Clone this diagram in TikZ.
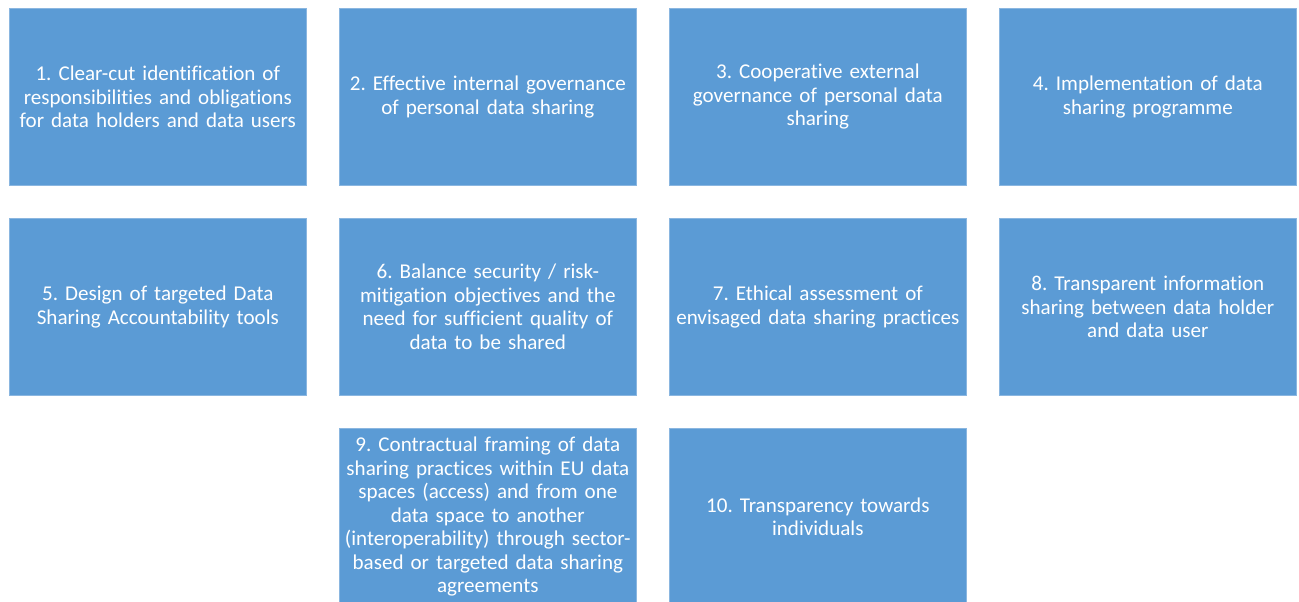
\documentclass[tikz,border=0pt]{standalone}
\usepackage{fontspec}
\setmainfont{Carlito}[Ligatures=NoCommon]
\usetikzlibrary{positioning}
\definecolor{boxblue}{HTML}{5B9BD5}
\definecolor{boxedge}{HTML}{8AB6E0}
\frenchspacing

\begin{document}
\begin{tikzpicture}[
    x=0.75pt, y=-0.75pt,
    node distance=24.25pt,
    item/.style={
        fill=boxblue,
        draw=boxedge,
        line width=0.5pt,
        text=white,
        minimum width=222.75pt,
        minimum height=132.75pt,
        text width=222pt,
        align=center,
        inner sep=0pt,
        font=\fontsize{15.8}{17.6}\selectfont
    }
]
\path[use as bounding box, clip] (0,0) rectangle (1299,602);

% first row
\node[item, anchor=north west] (r1) at (9,8) {1. Clear-cut identification of\\
    responsibilities and obligations\\for data holders and data users};
\node[item, right=of r1] (r2) {2. Effective internal governance\\of personal data sharing};
\node[item, right=of r2] (r3) {3. Cooperative external\\governance of personal data\\sharing};
\node[item, right=of r3] (r4) {4. Implementation of data\\sharing programme};

% second row
\node[item, below=of r1] (r5) {5. Design of targeted Data\\Sharing Accountability tools};
\node[item, right=of r5] (r6) {6. Balance security / risk-\\mitigation objectives and the\\
    need for sufficient quality of\\data to be shared};
\node[item, right=of r6] (r7) {7. Ethical assessment of\\envisaged data sharing practices};
\node[item, right=of r7] (r8) {8. Transparent information\\sharing between data holder\\
    and data user};

% third row
\node[item, below=of r6] (r9) {9. Contractual framing of data\\sharing practices within EU data\\
    spaces (access) and from one\\data space to another\\
    (interoperability) through sector-\\based or targeted data sharing\\agreements};
\node[item, right=of r9] (r10) {10. Transparency towards\\individuals};

\end{tikzpicture}
\end{document}
